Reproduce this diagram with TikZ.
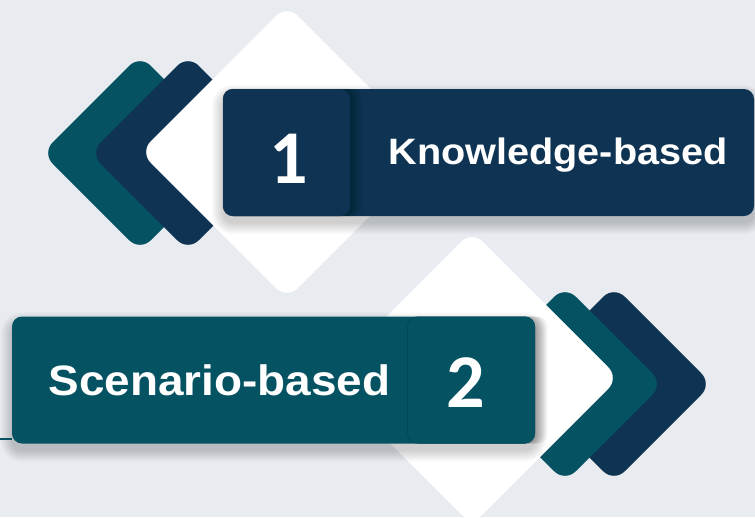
\documentclass[tikz,border=0pt]{standalone}
\usepackage{fontspec}
\newfontfamily\labfont{Liberation Sans}[FakeStretch=1.08]
\newfontfamily\numfont{Carlito}
\definecolor{bgc}{HTML}{E8ECF0}
\definecolor{navyc}{HTML}{0F3453}
\definecolor{tealc}{HTML}{055262}
\tikzset{
  dia/.style={rounded corners=15pt},
  bar/.style={rounded corners=10pt, inner sep=0pt, minimum height=127pt},
  numbox/.style={rounded corners=10pt, inner sep=0pt, minimum height=127pt, minimum width=127pt},
  shadowlayer/.style={fill=black, opacity=0.014},
  numtxt/.style={text=white, font=\numfont\bfseries\fontsize{76}{76}\selectfont, inner sep=0pt, anchor=base},
  labtxt/.style={text=white, inner sep=0pt, anchor=base},
}
\newcommand{\rdia}[4]{% fill color, cx, cy, d
  \fill[#1, dia] (#2-#4,#3) -- (#2,#3-#4) -- (#2+#4,#3) -- (#2,#3+#4) -- cycle;}
% soft drop shadow below a node (path drawn before the node)
\newcommand{\barshadow}[1]{%
  \foreach \i in {0,...,11}{
    \fill[shadowlayer, rounded corners={(10+\i)*1pt}]
      ([shift={(-\i,7-\i)}]#1.north west) rectangle ([shift={(\i,7+\i)}]#1.south east);}}
\newcommand{\boxshadow}[1]{%
  \foreach \i in {0,...,11}{
    \fill[black, opacity=0.018, rounded corners=10pt]
      (#1.north west) rectangle ([xshift={2+\i}]#1.south east);}}
\begin{document}
\begin{tikzpicture}[x=1pt, y=-1pt]
\useasboundingbox (0,0) rectangle (755,517);
\fill[bgc] (0,0) rectangle (755,517);
% top group
\rdia{tealc}{140}{153}{98}
\rdia{navyc}{188}{153}{98}
\rdia{white}{287}{152}{147}
\path (488.5,152.5) node[bar, minimum width=531pt] (bar1s) {};
\barshadow{bar1s}
\node[bar, fill=navyc, minimum width=531pt] (bar1) at (488.5,152.5) {};
\path (286.5,152.5) node[numbox] (box1s) {};
\boxshadow{box1s}
\node[numbox, fill=navyc] (box1) at (286.5,152.5) {};
\node[numtxt] (n1) at (289,183) {1};
\node[labtxt, font=\labfont\bfseries\fontsize{36.7}{36.7}\selectfont] (t1) at (558,164) {Knowledge-based};
% bottom group
\rdia{navyc}{614}{384}{98}
\rdia{tealc}{565}{384}{98}
\rdia{white}{472}{378}{147}
\path (273.5,380) node[bar, minimum width=523pt] (bar2s) {};
\barshadow{bar2s}
\coordinate (l0) at (0,439);
\node[bar, fill=tealc, minimum width=523pt] (bar2) at (273.5,380) {};
\draw[tealc, line width=2pt] (l0) -- (bar2.west |- l0);
\path (471.5,380) node[numbox] (box2s) {};
\boxshadow{box2s}
\node[numbox, fill=tealc] (box2) at (471.5,380) {};
\node[numtxt] (n2) at (466,407) {2};
\node[labtxt, font=\labfont\bfseries\fontsize{42.5}{42.5}\selectfont] (t2) at (219.5,395) {Scenario-based};
\end{tikzpicture}
\end{document}
